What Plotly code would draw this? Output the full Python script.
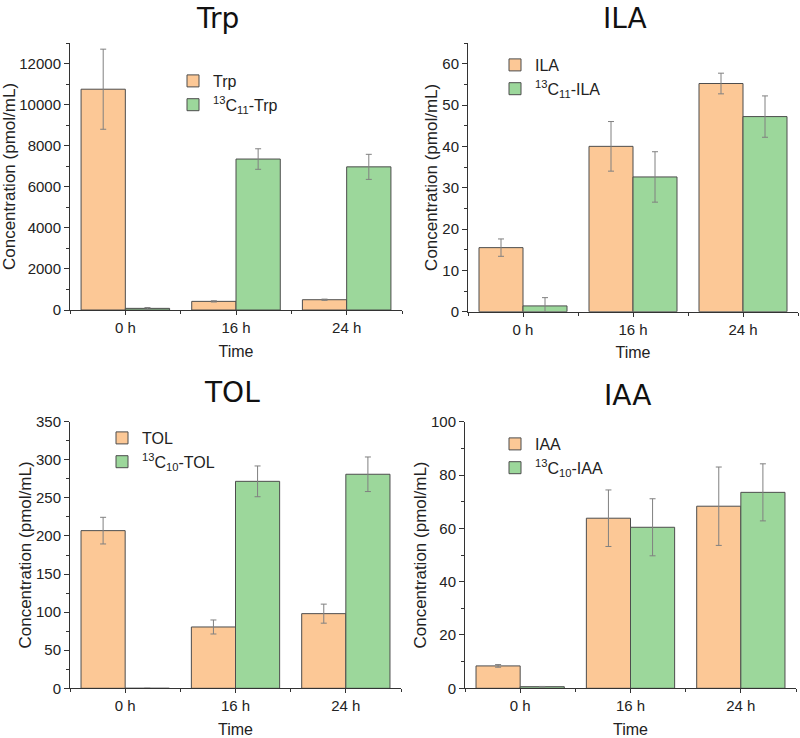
import plotly.graph_objects as go

times = ["0 h", "16 h", "24 h"]

trp = [10750, 420, 500]
trp_err = [1950, 30, 30]
trp13 = [80, 7350, 6970]
trp13_err = [40, 500, 610]

ila = [15.5, 40.0, 55.2]
ila_err = [2.1, 6.0, 2.5]
ila13 = [1.4, 32.6, 47.2]
ila13_err = [2.0, 6.1, 5.0]

tol = [207, 80.5, 98]
tol_err = [17.5, 9.2, 12.5]
tol13 = [0, 271.7, 281]
tol13_err = [0, 20.2, 22.7]

iaa = [8.4, 63.8, 68.3]
iaa_err = [0.5, 10.6, 14.7]
iaa13 = [0.6, 60.4, 73.5]
iaa13_err = [0.1, 10.7, 10.7]

panels = [
    dict(title="Trp", a=trp, ae=trp_err, b=trp13, be=trp13_err,
         na="Trp", nb="<sup>13</sup>C<sub>11</sub>-Trp", ymax=13000, dt=2000),
    dict(title="ILA", a=ila, ae=ila_err, b=ila13, be=ila13_err,
         na="ILA", nb="<sup>13</sup>C<sub>11</sub>-ILA", ymax=65, dt=10),
    dict(title="TOL", a=tol, ae=tol_err, b=tol13, be=tol13_err,
         na="TOL", nb="<sup>13</sup>C<sub>10</sub>-TOL", ymax=350, dt=50),
    dict(title="IAA", a=iaa, ae=iaa_err, b=iaa13, be=iaa13_err,
         na="IAA", nb="<sup>13</sup>C<sub>10</sub>-IAA", ymax=100, dt=20),
]

W, H = 800, 738
# plot-area pixel boxes (left, right, top, bottom)
boxes = [(70, 402, 43, 310), (468, 798, 43, 311.7),
         (70, 401, 421.7, 688.3), (465, 796, 421.7, 688.3)]
title_pos = [(217, 18), (625, 18), (232, 393), (627, 395)]
legend_pos = [(173, 64), (495, 48), (102, 421), (495, 427)]

ORANGE = "#FCC896"
GREEN = "#9CD79B"
EDGE = "#4d4d4d"
ERRC = "#808080"
FONT = "Liberation Sans, Arial, sans-serif"

fig = go.Figure()
xpos = list(range(len(times)))
annotations = []
for i, p in enumerate(panels):
    k = "" if i == 0 else str(i + 1)
    lg = "legend" + k
    for vals, errs, name, col in [(p["a"], p["ae"], p["na"], ORANGE),
                                  (p["b"], p["be"], p["nb"], GREEN)]:
        fig.add_trace(go.Bar(
            x=xpos, y=vals, name=name, legend=lg,
            xaxis="x" + k, yaxis="y" + k,
            marker=dict(color=col, line=dict(color=EDGE, width=1)),
            error_y=dict(type="data", array=errs, color=ERRC, thickness=1, width=3),
        ))
    l, r, t, b = boxes[i]
    fig.layout["xaxis" + k] = dict(
        domain=[l / W, r / W], anchor="y" + k, range=[-0.5, 2.5], automargin=False,
        tickvals=xpos, ticktext=times, ticks="outside", ticklen=4,
        tickcolor="#333", showline=True, linecolor="#333", linewidth=1,
        showgrid=False, zeroline=False, tickfont=dict(family=FONT, size=15, color="#222"),
        minor=dict(dtick=0.5, tick0=-0.5, ticks="outside", ticklen=3, tickcolor="#333"),
        title=dict(text="Time", font=dict(family=FONT, size=16, color="#222"), standoff=10),
    )
    fig.layout["yaxis" + k] = dict(
        domain=[1 - b / H, 1 - t / H], anchor="x" + k, range=[0, p["ymax"]], automargin=False,
        dtick=p["dt"], tick0=0, tickformat="d", ticks="outside", ticklen=5, tickcolor="#333",
        showline=True, linecolor="#333", linewidth=1, showgrid=False, zeroline=False,
        tickfont=dict(family=FONT, size=15, color="#222"),
        minor=dict(dtick=p["dt"] / 2, ticks="outside", ticklen=3, tickcolor="#333"),
        title=dict(text="Concentration (pmol/mL)", font=dict(family=FONT, size=17, color="#222"),
                   standoff=0),
    )
    tx, ty = title_pos[i]
    annotations.append(dict(text=p["title"], x=tx / W, y=1 - ty / H, xref="paper", yref="paper",
                            showarrow=False, xanchor="center", yanchor="middle",
                            font=dict(family="DejaVu Sans, Verdana, sans-serif", size=28, color="#111")))
    lx, ly = legend_pos[i]
    fig.layout[lg] = dict(x=lx / W, y=1 - ly / H, xanchor="left", yanchor="top",
                          bgcolor="rgba(0,0,0,0)", font=dict(family=FONT, size=16, color="#222"))

fig.update_layout(
    width=W, height=H, margin=dict(l=0, r=0, t=0, b=0, autoexpand=False),
    paper_bgcolor="white", plot_bgcolor="white",
    barmode="group", bargap=0.2, bargroupgap=0,
    annotations=annotations,
)

fig.write_html("out.html", config={"displayModeBar": False},
               post_script="document.body.style.margin='0';document.body.style.overflow='hidden';")
